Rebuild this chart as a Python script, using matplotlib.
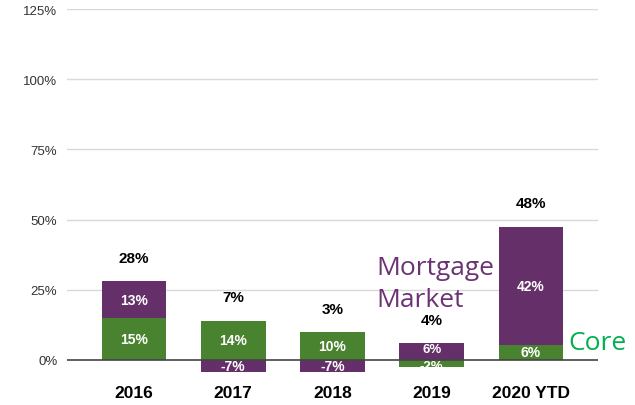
import matplotlib
matplotlib.use("Agg")
import matplotlib.pyplot as plt

categories = ["2016", "2017", "2018", "2019", "2020 YTD"]
core = [15, 14, 10, -2.5, 5.5]
mortgage = [13, -4.3, -4.3, 6, 42]
core_labels = ["15%", "14%", "10%", "-2%", "6%"]
mortgage_labels = ["13%", "-7%", "-7%", "6%", "42%"]
total_labels = ["28%", "7%", "3%", "4%", "48%"]
yticks = [0, 25, 50, 75, 100, 125]

GREEN = "#4a8330"
PURPLE = "#652f6a"

fig = plt.figure(figsize=(6.35, 4.06), dpi=100)
ax = fig.add_axes([67/635, 1-375/406, (598-67)/635, (375-10)/406])
ax.set_xlim(-0.675, 4.675)
ax.set_ylim(-5, 125)

for t in yticks:
    ax.axhline(t, color="#d9d9d9" if t else "#444444", lw=1.0 if t else 1.2, zorder=0 if t else 3)

x = list(range(len(categories)))
w = 0.65
for i in x:
    c, m = core[i], mortgage[i]
    ax.bar(i, c, w, color=GREEN, zorder=2)
    if c >= 0 and m >= 0:
        ax.bar(i, m, w, bottom=c, color=PURPLE, zorder=2)
        mc = c + m / 2
        top = c + m
    elif m < 0:
        ax.bar(i, m, w, bottom=0, color=PURPLE, zorder=2)
        mc = m / 2
        top = c
    else:
        ax.bar(i, m, w, bottom=0, color=PURPLE, zorder=2)
        mc = m / 2
        top = m
    cc = c / 2
    fs = 10
    if c < 0 and m > 0:
        # small split bar: keep the two labels apart
        cc -= 0.9
        mc += 0.9
        fs = 9.5
    ax.text(i, cc, core_labels[i], ha="center", va="center", color="white",
            fontsize=fs, fontweight="bold", family="Liberation Sans", zorder=4)
    ax.text(i, mc, mortgage_labels[i], ha="center", va="center", color="white",
            fontsize=fs, fontweight="bold", family="Liberation Sans", zorder=4)
    ax.text(i, top + 8.3, total_labels[i], ha="center", va="center", color="black",
            fontsize=11, fontweight="bold", family="Liberation Sans")

ax.set_yticks(yticks)
ax.set_yticklabels([f"{t}%" for t in yticks], family="Liberation Sans", fontsize=9.5, color="#333333")
ax.set_xticks(x)
ax.set_xticklabels(categories, family="Liberation Sans", fontsize=12.5, fontweight="bold")
ax.tick_params(axis="y", length=0, pad=7)
ax.tick_params(axis="x", length=0, pad=8)
for s in ax.spines.values():
    s.set_visible(False)

ax.text(2.44, 30.6, "Mortgage", color="#6b3373", fontsize=19, family="Open Sans", va="baseline", ha="left")
ax.text(2.44, 19.2, "Market", color="#6b3373", fontsize=19, family="Open Sans", va="baseline", ha="left")
ax.text(4.38, 3.9, "Core", color="#00b050", fontsize=19, family="Open Sans", va="baseline", ha="left")

fig.savefig("out.png", dpi=100)
